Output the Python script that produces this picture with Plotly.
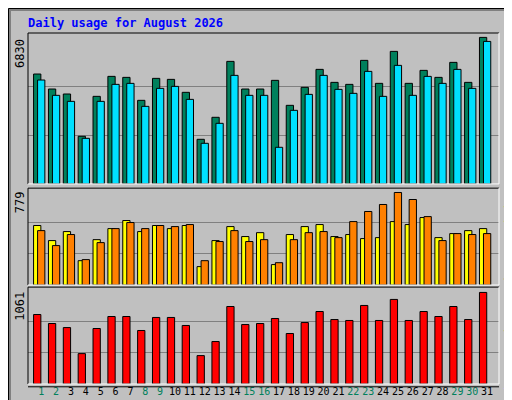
import plotly.graph_objects as go

days = list(range(1, 32))
hits = [5123, 4424, 4191, 2220, 4082, 5014, 4967, 3896, 4920, 4874, 4269, 2080, 3105, 5712, 4424, 4424,
        4828, 3663, 4502, 5340, 4734, 4641, 5759, 4688, 6178, 4688, 5293, 4967, 5666, 4734, 6830]
files = [4843, 4129, 3849, 2126, 3849, 4641, 4687, 3616, 4455, 4548, 3942, 1894, 2825, 5060, 4129, 4129,
         1707, 3430, 4175, 5060, 4408, 4222, 5246, 4082, 5526, 4129, 5013, 4687, 5339, 4455, 6643]
sites = [501, 374, 450, 205, 382, 475, 543, 450, 501, 475, 501, 155, 374, 492, 408, 441,
         172, 425, 492, 509, 408, 425, 391, 399, 534, 509, 568, 399, 433, 458, 475]
visits = [458, 332, 425, 214, 357, 475, 526, 475, 501, 492, 509, 205, 366, 458, 366, 382,
          188, 382, 441, 450, 399, 534, 619, 678, 779, 720, 576, 374, 433, 425, 433]
kbytes = [805, 701, 654, 352, 643, 782, 782, 620, 771, 771, 678, 329, 492, 898, 689, 701,
          759, 585, 712, 840, 747, 736, 910, 736, 980, 736, 840, 782, 898, 747, 1061]
weekend = [1, 2, 8, 9, 15, 16, 22, 23, 29, 30]

FONT = "DejaVu Sans Mono"
W = 0.49
hx = [d - 0.27 for d in days]

fig = go.Figure()
line = dict(color="black", width=1)
fig.add_trace(go.Bar(x=hx, y=hits, width=W, marker=dict(color="#00805C", line=line), yaxis="y"))
fig.add_trace(go.Bar(x=days, y=files, width=W, marker=dict(color="#00E0FF", line=line), yaxis="y"))
fig.add_trace(go.Bar(x=hx, y=sites, width=W, marker=dict(color="#FFFF00", line=line), yaxis="y2"))
fig.add_trace(go.Bar(x=days, y=visits, width=W, marker=dict(color="#FF8000", line=line), yaxis="y2"))
fig.add_trace(go.Bar(x=hx, y=kbytes, width=W, marker=dict(color="#FF0000", line=line), yaxis="y3"))

ticktext = [f'<span style="color:{"#00805C" if d in weekend else "black"}">{d}</span>' for d in days]

def yax(domain, top):
    return dict(domain=domain, range=[0, top], tickvals=[top * 0.97 / 3, top * 0.97 * 2 / 3],
                showticklabels=False, ticks="", showgrid=True, gridcolor="#808080", gridwidth=1,
                zeroline=False, fixedrange=True)

fig.update_layout(
    width=512, height=400, showlegend=False, barmode="overlay",
    paper_bgcolor="#C0C0C0", plot_bgcolor="#C0C0C0",
    margin=dict(l=20, r=21, t=25, b=24),
    font=dict(family=FONT, size=11, color="black"),
    xaxis=dict(range=[0.11, 31.8], tickvals=days, ticktext=ticktext, ticks="", showgrid=False,
               zeroline=False, anchor="y3", tickangle=0, tickfont=dict(size=10)),
    yaxis=yax([0.570, 1.0], 6830 * 1.03),
    yaxis2=yax([0.282, 0.558], 779 * 1.047),
    yaxis3=yax([0.0, 0.276], 1061 * 1.058),
)

# panel frames (black top/left, white bottom/right)
for y0, y1 in [(0.570, 1.0), (0.282, 0.558), (0.0, 0.276)]:
    fig.add_shape(type="line", xref="paper", yref="paper", x0=0, x1=1, y0=y1, y1=y1, line=dict(color="black", width=1))
    fig.add_shape(type="line", xref="paper", yref="paper", x0=0, x1=0, y0=y0, y1=y1, line=dict(color="black", width=1))
    fig.add_shape(type="line", xref="paper", yref="paper", x0=0, x1=1, y0=y0, y1=y0, line=dict(color="white", width=1))
    fig.add_shape(type="line", xref="paper", yref="paper", x0=1, x1=1, y0=y0, y1=y1, line=dict(color="white", width=1))
fig.add_shape(type="line", xref="paper", yref="paper", x0=0, x1=1, y0=-0.008, y1=-0.008, line=dict(color="black", width=1))

# outer bevel frame
px = lambda v: (v - 20) / 471
py = lambda v: (376 - v) / 351
fig.add_shape(type="rect", xref="paper", yref="paper", x0=px(0.5), x1=px(511.5), y0=py(399.5), y1=py(0.5),
              line=dict(color="black", width=1), layer="below")
fig.add_shape(type="rect", xref="paper", yref="paper", x0=px(2), x1=px(509), y0=py(397), y1=py(2),
              line=dict(color="#808080", width=2), layer="below")

ann = [
    dict(x=px(18), y=py(15), text="<b>Daily usage for August 2026</b>", xanchor="left", yanchor="middle",
         font=dict(color="#0000FF", size=12, family=FONT)),
    dict(x=px(21), y=0.99, text="6830", textangle=-90, xanchor="right", yanchor="top", font=dict(size=12)),
    dict(x=px(21), y=0.555, text="779", textangle=-90, xanchor="right", yanchor="top", font=dict(size=12)),
    dict(x=px(21), y=0.270, text="1061", textangle=-90, xanchor="right", yanchor="top", font=dict(size=12)),
    dict(x=px(493), y=1.0, textangle=-90, xanchor="left", yanchor="top", font=dict(size=12),
         text='<span style="color:#00C0FF">Pages</span> / <span style="color:#0080FF">Files</span> / <span style="color:#00805C">Hits</span>'),
    dict(x=px(493), y=0.560, textangle=-90, xanchor="left", yanchor="top", font=dict(size=12),
         text='<span style="color:#FF8000">Sites</span> / <span style="color:#FFFF00">Visits</span>'),
    dict(x=px(493), y=0.276, textangle=-90, xanchor="left", yanchor="top", font=dict(size=12),
         text='<span style="color:#FF0000">kB F</span> / <span style="color:#0080FF">kB In</span> / <span style="color:#00C000">kB Out</span>'),
]
for a in ann:
    a.update(xref="paper", yref="paper", showarrow=False)
    fig.add_annotation(**a)

fig.write_html("out.html")
